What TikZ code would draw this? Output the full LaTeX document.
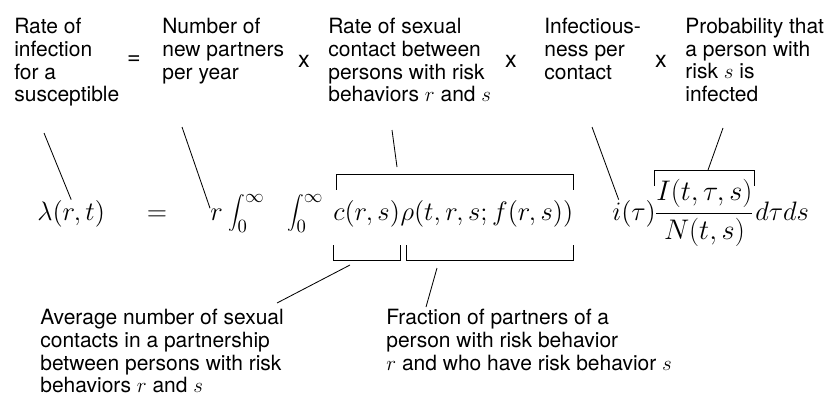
\RequirePackage{fix-cm}
\documentclass[tikz,border=0pt]{standalone}
\usepackage{fontspec}
\setmainfont{TeX Gyre Heros}
\usepackage{tikz}
\usetikzlibrary{positioning,calc}
\newcommand{\lblfont}{\fontsize{12.6}{13.6}\selectfont}
\newcommand{\opfont}{\fontsize{14}{16}\selectfont}
\newcommand{\eqfont}{\fontsize{16}{19}\selectfont}

\begin{document}
\begin{tikzpicture}[
      x=0.6pt, y=-0.6pt,
      lbl/.style={align=left, anchor=north west, inner sep=0pt, font=\lblfont},
      op/.style={inner sep=0pt, font=\opfont},
      eq/.style={anchor=base west, inner sep=0pt, font=\eqfont},
      lead/.style={line width=0.5pt},
      brk/.style={line width=0.6pt}
    ]
    \useasboundingbox (0,0) rectangle (839,398);
    \node[lbl] (rate) at (14,18) {Rate of\\infection\\for a\\susceptible};
    \node[op, anchor=center] (eqw) at (134,60) {=};
    \node[lbl] (partners) at (162,18) {Number of\\new partners\\per year};
    \node[op, anchor=base] (x1) at (304,67) {x};
    \node[lbl] (contact) at (328,18) {Rate of sexual\\contact between\\persons with risk\\behaviors $r$ and $s$};
    \node[op, anchor=base] (x2) at (511,67) {x};
    \node[lbl] (infect) at (544,18) {Infectious-\\ness per\\contact};
    \node[op, anchor=base] (x3) at (661,67) {x};
    \node[lbl] (prob) at (685,18) {Probability that\\a person with\\risk $s$ is\\infected};
    \node[eq] (lam) at (37,220) {$\lambda(r,t)$};
    \node[eq, anchor=base] (eqm) at (157,220) {$=$};
    \node[eq] (rr) at (210,220) {$r$};
    \node[eq] (ints) at (228,220) {$\displaystyle\int_0^\infty\hspace{11pt}\int_0^\infty$};
    \node[eq] (crs) at (333,220) {$c(r,s)$};
    \node[eq] (rho) at (crs.base east) {$\rho(t,r,s;f(r,s))$};
    \node[eq] (inf) at (612,220) {$i(\tau)$};
    \node[eq, font=\fontsize{17}{20}\selectfont] (frac) at (654,220) {$\displaystyle\frac{I(t,\tau,s)}{N(t,s)}$};
    \node[eq] (dtds) at (755,220) {$d\tau ds$};
    \node[lbl] (avg) at (40,309) {Average number of sexual\\contacts in a partnership\\between persons with risk\\behaviors $r$ and $s$};
    \node[lbl] (frc) at (386,309) {Fraction of partners of a\\person with risk behavior\\$r$ and who have risk behavior $s$};
    \draw[brk] ([xshift=2pt,yshift=6pt]crs.north west) |- ([yshift=15pt]rho.north east) -- ([yshift=6pt]rho.north east);
    \draw[brk] ([yshift=-11pt]crs.south west) |- ([yshift=-20pt]crs.south east) -- ([yshift=-11pt]crs.south east);
    \draw[brk] ([xshift=4pt,yshift=-11pt]rho.south west) |- ([yshift=-20pt]rho.south east) -- ([yshift=-11pt]rho.south east);
    \draw[brk] ([yshift=-4pt]frac.north west) |- ([yshift=5pt]frac.north east) -- ([yshift=-4pt]frac.north east);
    \coordinate (ratefoot) at (44,133);
    \coordinate (partnersfoot) at (182,127);
    \coordinate (contactfoot) at (392,130);
    \coordinate (contacttip) at (397,167);
    \coordinate (infectfoot) at (592,127);
    \coordinate (probfoot) at (723,128);
    \coordinate (probtip) at (708,170);
    \coordinate (avgtop) at (350,265);
    \coordinate (avgtip) at (277,303);
    \coordinate (frctop) at (437,268);
    \coordinate (frctip) at (426,307);
    \draw[lead] (ratefoot) -- (lam.north);
    \draw[lead] (partnersfoot) -- (rr.north west);
    \draw[lead] (contactfoot) -- (contacttip);
    \draw[lead] (infectfoot) -- ([xshift=4pt]inf.north west);
    \draw[lead] (probfoot) -- (probtip);
    \draw[lead] (avgtop) -- (avgtip);
    \draw[lead] (frctop) -- (frctip);
  \end{tikzpicture}
\end{document}
